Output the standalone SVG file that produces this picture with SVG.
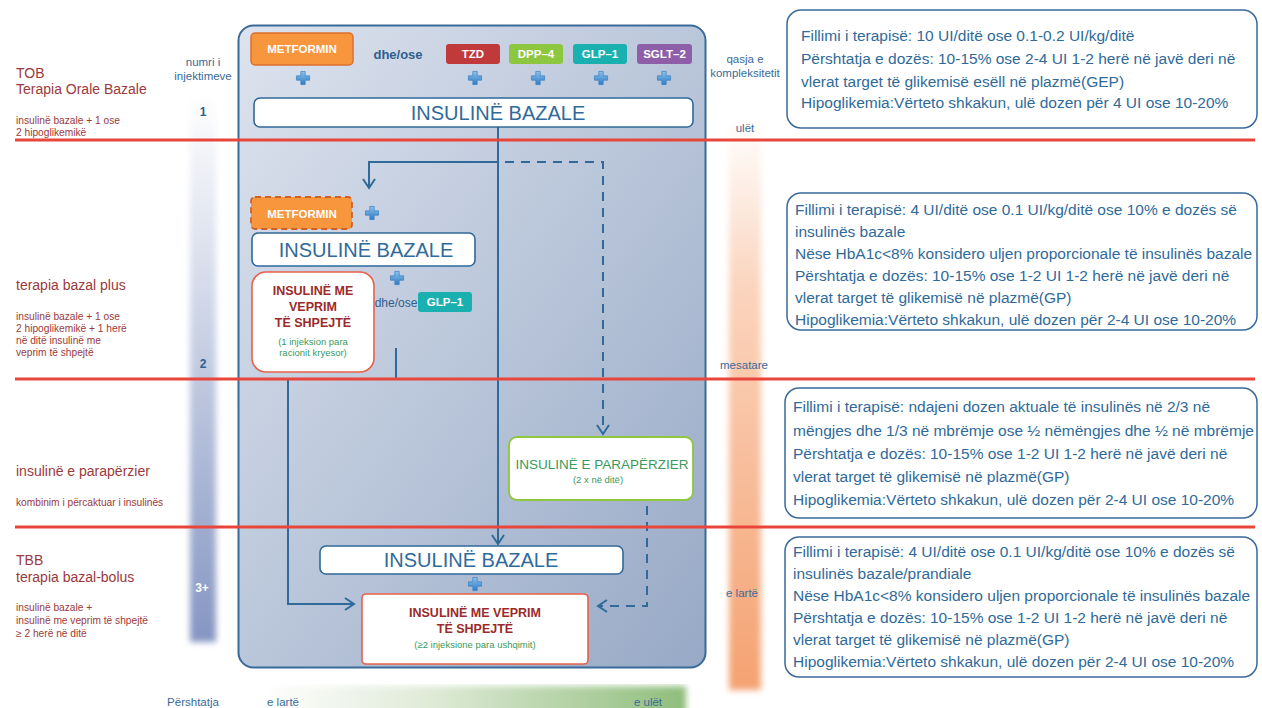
<svg xmlns="http://www.w3.org/2000/svg" width="1262" height="708" viewBox="0 0 1262 708">
<style>
text{font-family:"Liberation Sans",Arial,sans-serif}
.red{fill:#9b3a3a}
.lblL{font-size:14px}
.lblS{font-size:10.2px}
.blu{fill:#3a6a9a}
.ib{fill:#fff;stroke:#2f6a9a;stroke-width:1.6}
.ibt{font-size:20px;fill:#2f6a9a;text-anchor:middle}
.pill{font-size:11.5px;font-weight:bold;fill:#fff;text-anchor:middle}
.rt{font-size:15.5px;fill:#2f6a9a}
.rbox{fill:#fff;stroke:#3a6a9a;stroke-width:1.5}
.con{fill:none;stroke:#2f6a9a;stroke-width:2}
.dash{stroke-dasharray:9,7}
.sep{stroke:#e8463a;stroke-width:3}
.rr{font-size:12.5px;font-weight:bold;fill:#9b2a2a;text-anchor:middle}
.gt{font-size:9.5px;fill:#3a9a5a;text-anchor:middle}
</style>
<defs>
<linearGradient id="panel" x1="0" y1="0" x2="1" y2="1">
<stop offset="0" stop-color="#dde3ee"/><stop offset="1" stop-color="#97a9c6"/>
</linearGradient>
<linearGradient id="blueBar" x1="0" y1="0" x2="0" y2="1">
<stop offset="0" stop-color="#ffffff"/><stop offset="0.35" stop-color="#d5dbea"/><stop offset="1" stop-color="#8596c2"/>
</linearGradient>
<linearGradient id="orBar" x1="0" y1="0" x2="0" y2="1">
<stop offset="0" stop-color="#ffffff"/><stop offset="0.3" stop-color="#fbd4bd"/><stop offset="1" stop-color="#f4a272"/>
</linearGradient>
<linearGradient id="grBar" x1="0" y1="0" x2="1" y2="0">
<stop offset="0" stop-color="#ffffff"/><stop offset="0.4" stop-color="#dfead7"/><stop offset="1" stop-color="#8fbe7c"/>
</linearGradient>
<linearGradient id="plusG" x1="0" y1="0" x2="0" y2="1">
<stop offset="0" stop-color="#8cc2ee"/><stop offset="1" stop-color="#2f7cc4"/>
</linearGradient>
<filter id="blur" x="-50%" y="-5%" width="200%" height="110%"><feGaussianBlur stdDeviation="3"/></filter>
<symbol id="plus" viewBox="0 0 16 16" overflow="visible">
<path d="M5.5,0.5 h5 v5 h5 v5 h-5 v5 h-5 v-5 h-5 v-5 h5 z" fill="url(#plusG)" stroke="#3a80c0" stroke-width="0.8" stroke-linejoin="round"/>
</symbol>
<marker id="arr" viewBox="0 0 14 14" refX="12" refY="7" markerWidth="14" markerHeight="14" markerUnits="userSpaceOnUse" orient="auto">
<path d="M3,1 L12,7 L3,13" fill="none" stroke="#2f6a9a" stroke-width="2"/>
</marker>
</defs>

<g id="bars">
<rect x="190" y="92" width="26" height="550" fill="url(#blueBar)" filter="url(#blur)"/>
<rect x="729" y="118" width="32" height="572" fill="url(#orBar)" filter="url(#blur)"/>
<rect x="262" y="686" width="424" height="30" fill="url(#grBar)" filter="url(#blur)"/>
</g>

<g id="panel-bg">
<rect x="238.5" y="25.5" width="467" height="642" rx="15" fill="url(#panel)" stroke="#3a6a9a" stroke-width="2"/>
</g>

<g id="left-labels">
<text class="red lblL" x="16" y="78">TOB</text>
<text class="red lblL" x="16" y="94">Terapia Orale Bazale</text>
<text class="red lblS" x="16" y="124">insulinë bazale + 1 ose</text>
<text class="red lblS" x="16" y="136">2 hipoglikemikë</text>
<text class="red lblL" x="16" y="290">terapia bazal plus</text>
<text class="red lblS" x="16" y="320">insulinë bazale + 1 ose</text>
<text class="red lblS" x="16" y="332">2 hipoglikemikë + 1 herë</text>
<text class="red lblS" x="16" y="344">në ditë insulinë me</text>
<text class="red lblS" x="16" y="356">veprim të shpejtë</text>
<text class="red lblL" x="16" y="476">insulinë e parapërzier</text>
<text class="red lblS" x="16" y="506">kombinim i përcaktuar i insulinës</text>
<text class="red lblL" x="16" y="565">TBB</text>
<text class="red lblL" x="16" y="582">terapia bazal-bolus</text>
<text class="red lblS" x="16" y="611">insulinë bazale +</text>
<text class="red lblS" x="16" y="624">insulinë me veprim të shpejtë</text>
<text class="red lblS" x="16" y="637">≥ 2 herë në ditë</text>
</g>

<g id="axis-labels">
<text class="blu" x="203" y="66" font-size="11.5" text-anchor="middle">numri i</text>
<text class="blu" x="203" y="80" font-size="11.5" text-anchor="middle">injektimeve</text>
<text x="203" y="116" font-size="12" font-weight="bold" fill="#2f5f8f" text-anchor="middle">1</text>
<text x="203" y="368" font-size="12" font-weight="bold" fill="#2f5f8f" text-anchor="middle">2</text>
<text x="202" y="592" font-size="12" font-weight="bold" fill="#ffffff" text-anchor="middle">3+</text>
<text class="blu" x="745" y="63" font-size="11.5" text-anchor="middle">qasja e</text>
<text class="blu" x="745" y="77" font-size="11.5" text-anchor="middle">kompleksitetit</text>
<text class="blu" x="745" y="132" font-size="11.5" text-anchor="middle">ulët</text>
<text class="blu" x="744" y="369" font-size="11.5" text-anchor="middle">mesatare</text>
<text class="blu" x="742" y="597" font-size="11.5" text-anchor="middle">e lartë</text>
<text class="blu" x="193" y="706" font-size="11.5" text-anchor="middle">Përshtatja</text>
<text class="blu" x="283" y="706" font-size="11.5" text-anchor="middle">e lartë</text>
<text class="blu" x="648" y="706" font-size="11.5" text-anchor="middle">e ulët</text>
</g>

<g id="connectors">
<line class="con" x1="498" y1="127" x2="498" y2="544" marker-end="url(#arr)"/>
<polyline class="con" points="498,162 369,162 369,188" marker-end="url(#arr)"/>
<polyline class="con dash" points="505,162 603,162 603,434" marker-end="url(#arr)"/>
<polyline class="con" points="396,348 396,379 288,379 288,604 354,604" marker-end="url(#arr)"/>
<polyline class="con dash" points="647,506 647,606 598,606" marker-end="url(#arr)"/>
</g>

<g id="separators">
<line class="sep" x1="15" y1="140" x2="1255" y2="140"/>
<line class="sep" x1="15" y1="379" x2="1255" y2="379"/>
<line class="sep" x1="15" y1="527" x2="1255" y2="527"/>
</g>

<g id="top-row">
<rect x="251" y="33" width="102" height="32" rx="4" fill="#f7963d" stroke="#e06f2c" stroke-width="1.5"/>
<text class="pill" x="302" y="53" font-size="12">METFORMIN</text>
<text x="398" y="59" font-size="13" font-weight="bold" fill="#2f5f8f" text-anchor="middle">dhe/ose</text>
<rect x="446" y="44" width="54" height="20" rx="3" fill="#c0393b"/>
<text class="pill" x="473" y="58">TZD</text>
<rect x="509" y="44" width="54" height="20" rx="3" fill="#8dc63f"/>
<text class="pill" x="536" y="58">DPP–4</text>
<rect x="573" y="44" width="54" height="20" rx="3" fill="#1bb0b0"/>
<text class="pill" x="600" y="58">GLP–1</text>
<rect x="637" y="44" width="55" height="20" rx="3" fill="#8e5ea8"/>
<text class="pill" x="664.5" y="58">SGLT–2</text>
<use href="#plus" x="296" y="71" width="14" height="14"/>
<use href="#plus" x="468" y="71" width="14" height="14"/>
<use href="#plus" x="531" y="71" width="14" height="14"/>
<use href="#plus" x="594" y="71" width="14" height="14"/>
<use href="#plus" x="657" y="71" width="14" height="14"/>
</g>

<g id="basal-1">
<rect class="ib" x="254" y="98" width="439" height="29" rx="6"/>
<text class="ibt" x="498" y="120">INSULINË BAZALE</text>
</g>

<g id="metformin-2">
<rect x="251" y="197" width="101" height="32" rx="4" fill="#f7963d" stroke="#d0602a" stroke-width="1.8" stroke-dasharray="6,4"/>
<text class="pill" x="302" y="218" font-size="12">METFORMIN</text>
<use href="#plus" x="365" y="206" width="14" height="14"/>
</g>

<g id="basal-2">
<rect class="ib" x="252" y="233" width="223" height="33" rx="6"/>
<text class="ibt" x="366" y="257">INSULINË BAZALE</text>
</g>

<g id="rapid-1">
<rect x="252" y="272" width="122" height="100" rx="14" fill="#fff" stroke="#e8604a" stroke-width="1.6"/>
<text class="rr" x="313" y="295">INSULINË ME</text>
<text class="rr" x="313" y="311">VEPRIM</text>
<text class="rr" x="313" y="327">TË SHPEJTË</text>
<text class="gt" x="313" y="345">(1 injeksion para</text>
<text class="gt" x="313" y="356">racionit kryesor)</text>
</g>

<g id="glp1-2">
<use href="#plus" x="390" y="271" width="14" height="14"/>
<text x="396" y="307" font-size="12" fill="#2f5f8f" text-anchor="middle">dhe/ose</text>
<rect x="418" y="292" width="54" height="20" rx="3" fill="#1bb0b0"/>
<text class="pill" x="445" y="306">GLP–1</text>
</g>

<g id="premix">
<rect x="509" y="437" width="184" height="63" rx="8" fill="#fff" stroke="#8dc63f" stroke-width="1.8"/>
<text x="602" y="469" font-size="13.5" fill="#3a9a5a" text-anchor="middle">INSULINË E PARAPËRZIER</text>
<text class="gt" x="598" y="483">(2 x në ditë)</text>
</g>

<g id="basal-3">
<rect class="ib" x="320" y="546" width="303" height="28" rx="6"/>
<text class="ibt" x="471" y="567">INSULINË BAZALE</text>
<use href="#plus" x="468" y="577" width="14" height="14"/>
</g>

<g id="rapid-2">
<rect x="362" y="594" width="226" height="70" rx="4" fill="#fff" stroke="#e8604a" stroke-width="1.6"/>
<text class="rr" x="475" y="617">INSULINË ME VEPRIM</text>
<text class="rr" x="475" y="633">TË SHPEJTË</text>
<text class="gt" x="475" y="648">(≥2 injeksione para ushqimit)</text>
</g>

<g id="info-1">
<rect class="rbox" x="787" y="10" width="470" height="118" rx="14"/>
<text class="rt" x="801" y="41">Fillimi i terapisë: 10 UI/ditë ose 0.1-0.2 UI/kg/ditë</text>
<text class="rt" x="801" y="64">Përshtatja e dozës: 10-15% ose 2-4 UI 1-2 herë në javë deri në</text>
<text class="rt" x="801" y="87">vlerat target të glikemisë esëll në plazmë(GEP)</text>
<text class="rt" x="801" y="108">Hipoglikemia:Vërteto shkakun, ulë dozen për 4 UI ose 10-20%</text>
</g>

<g id="info-2">
<rect class="rbox" x="787" y="193" width="470" height="137" rx="14"/>
<text class="rt" x="795" y="215">Fillimi i terapisë: 4 UI/ditë ose 0.1 UI/kg/ditë ose 10% e dozës së</text>
<text class="rt" x="795" y="237">insulinës bazale</text>
<text class="rt" x="795" y="259">Nëse HbA1c&lt;8% konsidero uljen proporcionale të insulinës bazale</text>
<text class="rt" x="795" y="281">Përshtatja e dozës: 10-15% ose 1-2 UI 1-2 herë në javë deri në</text>
<text class="rt" x="795" y="303">vlerat target të glikemisë në plazmë(GP)</text>
<text class="rt" x="795" y="325">Hipoglikemia:Vërteto shkakun, ulë dozen për 2-4 UI ose 10-20%</text>
</g>

<g id="info-3">
<rect class="rbox" x="785" y="388" width="472" height="130" rx="14"/>
<text class="rt" x="793" y="412">Fillimi i terapisë: ndajeni dozen aktuale të insulinës në 2/3 në</text>
<text class="rt" x="793" y="436">mëngjes dhe 1/3 në mbrëmje ose ½ nëmëngjes dhe ½ në mbrëmje</text>
<text class="rt" x="793" y="459">Përshtatja e dozës: 10-15% ose 1-2 UI 1-2 herë në javë deri në</text>
<text class="rt" x="793" y="482">vlerat target të glikemisë në plazmë(GP)</text>
<text class="rt" x="793" y="505">Hipoglikemia:Vërteto shkakun, ulë dozen për 2-4 UI ose 10-20%</text>
</g>

<g id="info-4">
<rect class="rbox" x="785" y="537" width="472" height="140" rx="14"/>
<text class="rt" x="793" y="557">Fillimi i terapisë: 4 UI/ditë ose 0.1 UI/kg/ditë ose 10% e dozës së</text>
<text class="rt" x="793" y="579">insulinës bazale/prandiale</text>
<text class="rt" x="793" y="601">Nëse HbA1c&lt;8% konsidero uljen proporcionale të insulinës bazale</text>
<text class="rt" x="793" y="623">Përshtatja e dozës: 10-15% ose 1-2 UI 1-2 herë në javë deri në</text>
<text class="rt" x="793" y="645">vlerat target të glikemisë në plazmë(GP)</text>
<text class="rt" x="793" y="667">Hipoglikemia:Vërteto shkakun, ulë dozen për 2-4 UI ose 10-20%</text>
</g>
</svg>
